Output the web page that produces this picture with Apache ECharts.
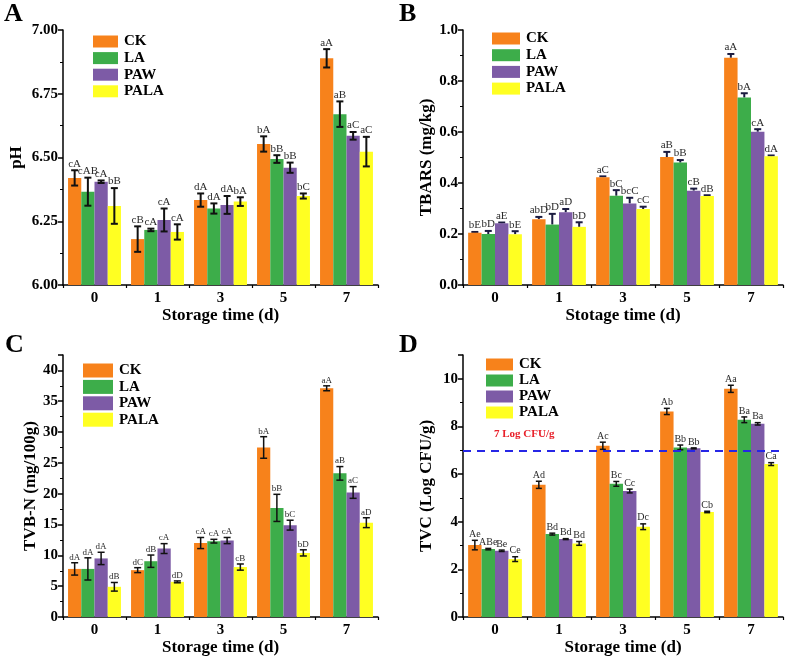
<!DOCTYPE html>
<html>
<head>
<meta charset="utf-8">
<script src="https://cdn.jsdelivr.net/npm/echarts@6/dist/echarts.min.js"></script>
<style>html,body{margin:0;padding:0;background:#fff}#main{width:788px;height:658px}</style>
</head>
<body>
<div id="main"></div>
<script>
var days = ['0', '1', '3', '5', '7'];
var groups = ['CK', 'LA', 'PAW', 'PALA'];
var colors = ['#F7821B', '#3DAD4A', '#7D5BA6', '#FFFF22'];

// A - pH
var phMean = [
    [6.42, 6.18, 6.333, 6.553, 6.889],
    [6.366, 6.216, 6.30, 6.494, 6.67],
    [6.405, 6.255, 6.314, 6.46, 6.585],
    [6.31, 6.208, 6.327, 6.349, 6.523]
];
var phErr = [
    [0.03, 0.05, 0.026, 0.03, 0.036],
    [0.055, 0.005, 0.02, 0.015, 0.05],
    [0.005, 0.045, 0.035, 0.02, 0.015],
    [0.07, 0.03, 0.017, 0.01, 0.058]
];
var phLetters = [
    ['cA', 'cB', 'dA', 'bA', 'aA'],
    ['cAB', 'cA', 'dA', 'bB', 'aB'],
    ['cA', 'cA', 'dA', 'bB', 'aC'],
    ['bB', 'cA', 'bA', 'bC', 'aC']
];

// B - TBARS
var tbMean = [
    [0.205, 0.258, 0.423, 0.502, 0.891],
    [0.200, 0.237, 0.350, 0.480, 0.735],
    [0.242, 0.285, 0.320, 0.370, 0.601],
    [0.199, 0.228, 0.298, 0.349, 0.505]
];
var tbErr = [
    [0.003, 0.009, 0.003, 0.02, 0.015],
    [0.012, 0.042, 0.022, 0.01, 0.017],
    [0.003, 0.013, 0.022, 0.008, 0.01],
    [0.012, 0.018, 0.009, 0.003, 0.003]
];
var tbLetters = [
    ['bE', 'abD', 'aC', 'aB', 'aA'],
    ['bD', 'bD', 'bC', 'bB', 'bA'],
    ['aE', 'aD', 'bcC', 'cB', 'cA'],
    ['bE', 'bD', 'cC', 'dB', 'dA']
];

// C - TVB-N
var tvbMean = [
    [7.8, 7.6, 12.0, 27.5, 37.1],
    [7.8, 9.05, 12.3, 17.7, 23.3],
    [9.5, 11.1, 12.4, 14.9, 20.2],
    [4.9, 5.7, 8.1, 10.4, 15.3]
];
var tvbErr = [
    [1.0, 0.4, 0.9, 1.75, 0.4],
    [1.8, 1.0, 0.3, 2.2, 1.1],
    [1.0, 0.8, 0.5, 0.8, 0.95],
    [0.7, 0.15, 0.5, 0.5, 0.8]
];
var tvbLetters = [
    ['dA', 'dC', 'cA', 'bA', 'aA'],
    ['dA', 'dB', 'cA', 'bB', 'aB'],
    ['dA', 'cA', 'cA', 'bC', 'aC'],
    ['dB', 'dD', 'cB', 'bD', 'aD']
];

// D - TVC
var tvcMean = [
    [3.02, 5.55, 7.19, 8.63, 9.58],
    [2.85, 3.48, 5.59, 7.12, 8.28],
    [2.78, 3.27, 5.29, 7.08, 8.11],
    [2.43, 3.09, 3.79, 4.41, 6.42]
];
var tvcErr = [
    [0.2, 0.15, 0.15, 0.13, 0.15],
    [0.03, 0.04, 0.1, 0.1, 0.12],
    [0.03, 0.02, 0.08, 0.02, 0.05],
    [0.1, 0.08, 0.12, 0.03, 0.06]
];
var tvcLetters = [
    ['Ae', 'Ad', 'Ac', 'Ab', 'Aa'],
    ['ABe', 'Bd', 'Bc', 'Bb', 'Ba'],
    ['Be', 'Bd', 'Cc', 'Bb', 'Ba'],
    ['Ce', 'Bd', 'Dc', 'Cb', 'Ca']
];
var tvcLimit = 7;

var serif = 'Liberation Serif';
var catGap = 0.16;

function panelSeries(idx, mean, err, letters, o) {
    var list = [];
    groups.forEach(function (g, i) {
        list.push({
            name: g, type: 'bar', xAxisIndex: idx, yAxisIndex: idx,
            data: mean[i], itemStyle: { color: colors[i] },
            barGap: '0%', barCategoryGap: (catGap * 100) + '%', z: 3
        });
    });
    var errData = [];
    for (var i = 0; i < 4; i++) {
        for (var j = 0; j < 5; j++) errData.push([j, i, mean[i][j], err[i][j]]);
    }
    list.push({
        type: 'custom', xAxisIndex: idx, yAxisIndex: idx, silent: true,
        z: o.behind ? 2 : 4,
        encode: { x: 0, y: 2 },
        data: errData,
        renderItem: function (params, api) {
            var j = api.value(0), i = api.value(1), m = api.value(2), e = api.value(3);
            var band = api.size([1, 0])[0];
            var bw = band * (1 - catGap) / 4;
            var x = api.coord([j, m])[0] + (i - 1.5) * bw;
            var yTop = api.coord([j, m + e])[1];
            var yBot = o.upOnly ? api.coord([j, m])[1] : api.coord([j, m - e])[1];
            var st = { stroke: o.errColor, lineWidth: o.lw };
            var kids = [
                { type: 'line', shape: { x1: x, y1: yTop, x2: x, y2: yBot }, style: st },
                { type: 'line', shape: { x1: x - o.cap / 2, y1: yTop, x2: x + o.cap / 2, y2: yTop }, style: st }
            ];
            if (!o.upOnly) {
                kids.push({ type: 'line', shape: { x1: x - o.cap / 2, y1: yBot, x2: x + o.cap / 2, y2: yBot }, style: st });
            }
            kids.push({
                type: 'text', x: x, y: yTop - 1, z2: 10,
                style: {
                    text: letters[i][j], align: 'center', verticalAlign: 'bottom',
                    fontSize: o.fs, fontFamily: serif, fill: '#2b2b2b'
                }
            });
            return { type: 'group', children: kids };
        }
    });
    return list;
}

function xAx(idx, name, gap) {
    return {
        type: 'category', gridIndex: idx, data: days, position: 'bottom',
        axisLine: { lineStyle: { color: '#000', width: 1.5 } },
        axisTick: { alignWithLabel: true, length: 4, lineStyle: { color: '#000', width: 1.5 } },
        axisLabel: { color: '#000', fontFamily: serif, fontWeight: 'bold', fontSize: 15, margin: 6 },
        name: name, nameLocation: 'middle', nameGap: gap,
        nameTextStyle: { color: '#000', fontFamily: serif, fontWeight: 'bold', fontSize: 17 }
    };
}

// second category axis per panel, only for the small ticks between days
// (top axis pushed down onto the bottom edge)
function xEdge(idx, h) {
    return {
        type: 'category', gridIndex: idx, data: days, position: 'top', offset: -h,
        axisLine: { show: false },
        axisTick: { show: true, inside: true, length: 3, lineStyle: { color: '#000', width: 1.2 } },
        axisLabel: { show: false }
    };
}

function yAx(idx, min, max, interval, dec, name, gap, hideMax) {
    return {
        type: 'value', gridIndex: idx, min: min, max: max, interval: interval,
        axisLine: { show: true, lineStyle: { color: '#000', width: 1.5 } },
        axisTick: { show: true, length: 5, lineStyle: { color: '#000', width: 1.5 } },
        minorTick: { show: true, splitNumber: 2, length: 3, lineStyle: { color: '#000', width: 1 } },
        splitLine: { show: false },
        axisLabel: {
            color: '#000', fontFamily: serif, fontWeight: 'bold', fontSize: 15, margin: 5,
            showMaxLabel: hideMax ? false : null,
            formatter: function (v) { return v.toFixed(dec); }
        },
        name: name, nameLocation: 'middle', nameGap: gap,
        nameTextStyle: { color: '#000', fontFamily: serif, fontWeight: 'bold', fontSize: 17 }
    };
}

function legendAt(left, top, w, h, pitch) {
    return {
        data: groups, orient: 'vertical', left: left, top: top, padding: 0,
        itemWidth: w, itemHeight: h, itemGap: Math.max(0, pitch - 15), icon: 'rect',
        itemStyle: { borderWidth: 0 },
        textStyle: {
            color: '#000', fontFamily: serif, fontWeight: 'bold', fontSize: 15,
            padding: [0, 0, 0, 1]
        }
    };
}

var series = [].concat(
    panelSeries(0, phMean, phErr, phLetters, { errColor: '#111', lw: 2, cap: 7, fs: 11 }),
    panelSeries(1, tbMean, tbErr, tbLetters, { errColor: '#1b1b40', lw: 2, cap: 7, fs: 11, upOnly: true, behind: true }),
    panelSeries(2, tvbMean, tvbErr, tvbLetters, { errColor: '#111', lw: 1.5, cap: 7, fs: 9 }),
    panelSeries(3, tvcMean, tvcErr, tvcLetters, { errColor: '#111', lw: 1.5, cap: 6, fs: 10 })
);

// threshold line on panel D
series[15].markLine = {
    silent: true, symbol: 'none', animation: false,
    lineStyle: { color: '#2626e6', type: [8, 6], width: 2 },
    label: {
        position: 'insideStartTop', formatter: '7 Log CFU/g', color: '#e8202a',
        fontFamily: serif, fontWeight: 'bold', fontSize: 11, padding: [0, 0, 6, 26]
    },
    data: [{ yAxis: tvcLimit }]
};

var option = {
    animation: false,
    backgroundColor: '#fff',
    title: [
        { text: 'A', left: 4, top: 1 },
        { text: 'B', left: 399, top: 1 },
        { text: 'C', left: 5, top: 332 },
        { text: 'D', left: 399, top: 332 }
    ].map(function (t) {
        t.padding = 0;
        t.textStyle = { color: '#000', fontFamily: serif, fontWeight: 'bold', fontSize: 26 };
        return t;
    }),
    legend: [
        legendAt(93, 34, 25, 12, 16.6),
        legendAt(492, 31, 28, 12, 16.7),
        legendAt(83, 363, 30, 14, 16.4),
        legendAt(486, 357, 27, 12, 16)
    ],
    grid: [
        { left: 63, top: 30, width: 315, height: 255 },
        { left: 463, top: 30, width: 320, height: 255 },
        { left: 63, top: 355, width: 315, height: 262 },
        { left: 463, top: 355, width: 320, height: 262 }
    ],
    xAxis: [
        xAx(0, 'Storage time (d)', 22),
        xAx(1, 'Stotage time (d)', 22),
        xAx(2, 'Storage time (d)', 21),
        xAx(3, 'Storage time (d)', 21),
        xEdge(0, 255), xEdge(1, 255), xEdge(2, 262), xEdge(3, 262)
    ],
    yAxis: [
        yAx(0, 6, 7, 0.25, 2, 'pH', 38),
        yAx(1, 0, 1, 0.2, 1, 'TBARS (mg/kg)', 28),
        yAx(2, 0, 42.5, 5, 0, 'TVB-N (mg/100g)', 22, true),
        yAx(3, 0, 11, 2, 0, 'TVC (Log CFU/g)', 28, true)
    ],
    series: series
};

var chart = echarts.init(document.getElementById('main'));
chart.setOption(option);
</script>
</body>
</html>
